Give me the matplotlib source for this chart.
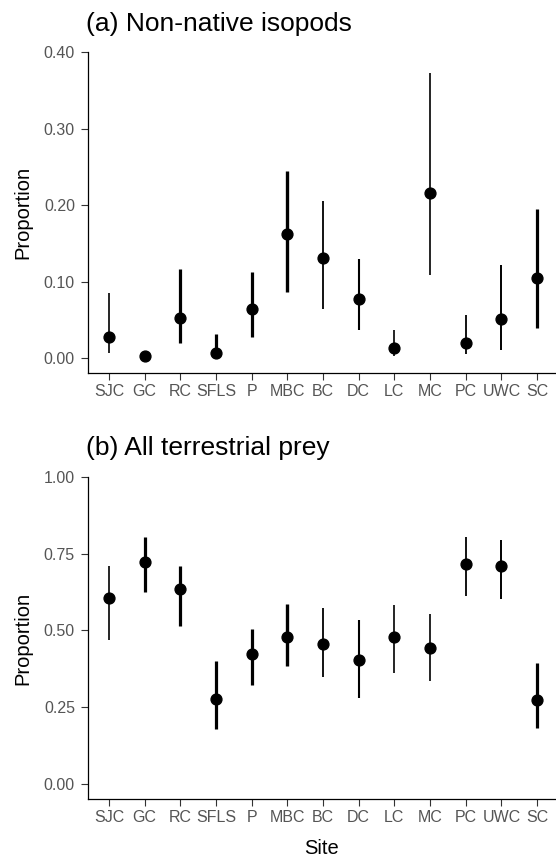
import numpy as np
import matplotlib.pyplot as plt

plt.rcParams['font.family'] = ['Liberation Sans', 'DejaVu Sans']

# Sites along the x axis
sites = ['SJC', 'GC', 'RC', 'SFLS', 'P', 'MBC', 'BC', 'DC', 'LC', 'MC', 'PC', 'UWC', 'SC']

# (a) Non-native isopods: estimate with lower / upper interval
iso_est = [0.027, 0.003, 0.052, 0.006, 0.064, 0.162, 0.131, 0.077, 0.013, 0.216, 0.019, 0.051, 0.105]
iso_lo = [0.006, 0.001, 0.019, 0.001, 0.027, 0.086, 0.064, 0.036, 0.003, 0.109, 0.005, 0.010, 0.039]
iso_hi = [0.085, 0.006, 0.116, 0.032, 0.113, 0.245, 0.205, 0.129, 0.037, 0.373, 0.056, 0.121, 0.195]

# (b) All terrestrial prey
ter_est = [0.604, 0.723, 0.635, 0.276, 0.423, 0.479, 0.455, 0.404, 0.477, 0.442, 0.716, 0.710, 0.273]
ter_lo = [0.469, 0.624, 0.515, 0.178, 0.322, 0.385, 0.347, 0.279, 0.360, 0.336, 0.612, 0.602, 0.181]
ter_hi = [0.710, 0.803, 0.710, 0.401, 0.504, 0.586, 0.572, 0.534, 0.583, 0.553, 0.803, 0.794, 0.393]

# line width of each interval (varies by site in the original)
bar_widths = [1.2, 2.3, 2.3, 2.3, 2.3, 2.4, 1.3, 1.5, 1.2, 1.2, 1.3, 1.4, 2.3]

W, H = 556, 861
fig = plt.figure(figsize=(W / 100, H / 100), dpi=100)

ax_a = fig.add_axes([87.5 / W, 1 - 373 / H, 1 - 87.5 / W, (373 - 52) / H])
ax_b = fig.add_axes([87.5 / W, 1 - 799.3 / H, 1 - 87.5 / W, (799.3 - 476.7) / H])

x = np.arange(1, len(sites) + 1)


def draw_panel(ax, est, lo, hi, yticks, ylim):
    for i in range(len(sites)):
        ax.plot([x[i], x[i]], [lo[i], hi[i]], color='black', linewidth=bar_widths[i],
                solid_capstyle='butt', zorder=2)
    ax.plot(x, est, 'o', color='black', markersize=7.8, zorder=3)

    ax.set_xlim(0.4, 13.53)
    ax.set_ylim(*ylim)
    ax.set_xticks(x)
    ax.set_xticklabels(sites)
    ax.set_yticks(yticks)
    ax.set_yticklabels([f'{t:.2f}' for t in yticks])

    for side in ['top', 'right']:
        ax.spines[side].set_visible(False)
    for side in ['left', 'bottom']:
        ax.spines[side].set_linewidth(0.9)
        ax.spines[side].set_color('black')

    ax.tick_params(axis='both', direction='out', length=5, width=0.8, color='#333333',
                   labelcolor='#555555', labelsize=11.5)
    ax.tick_params(axis='y', pad=4)
    ax.tick_params(axis='x', pad=3)
    ax.patch.set_visible(False)


draw_panel(ax_a, iso_est, iso_lo, iso_hi, [0.0, 0.1, 0.2, 0.3, 0.4], (-0.0196, 0.40))
draw_panel(ax_b, ter_est, ter_lo, ter_hi, [0.0, 0.25, 0.5, 0.75, 1.0], (-0.05, 1.0))

fig.text(86 / W, 1 - 24 / H, '(a) Non-native isopods', fontsize=19, ha='left', va='center')
fig.text(86 / W, 1 - 448 / H, '(b) All terrestrial prey', fontsize=19, ha='left', va='center')

fig.text(23 / W, 1 - 212 / H, 'Proportion', fontsize=14.5, rotation=90, ha='center', va='center')
fig.text(23 / W, 1 - 638 / H, 'Proportion', fontsize=14.5, rotation=90, ha='center', va='center')
fig.text((87.5 + (W - 87.5) / 2) / W, 1 - 848 / H, 'Site', fontsize=14.5, ha='center', va='center')

fig.savefig('out.png', dpi=100)
plt.close(fig)
